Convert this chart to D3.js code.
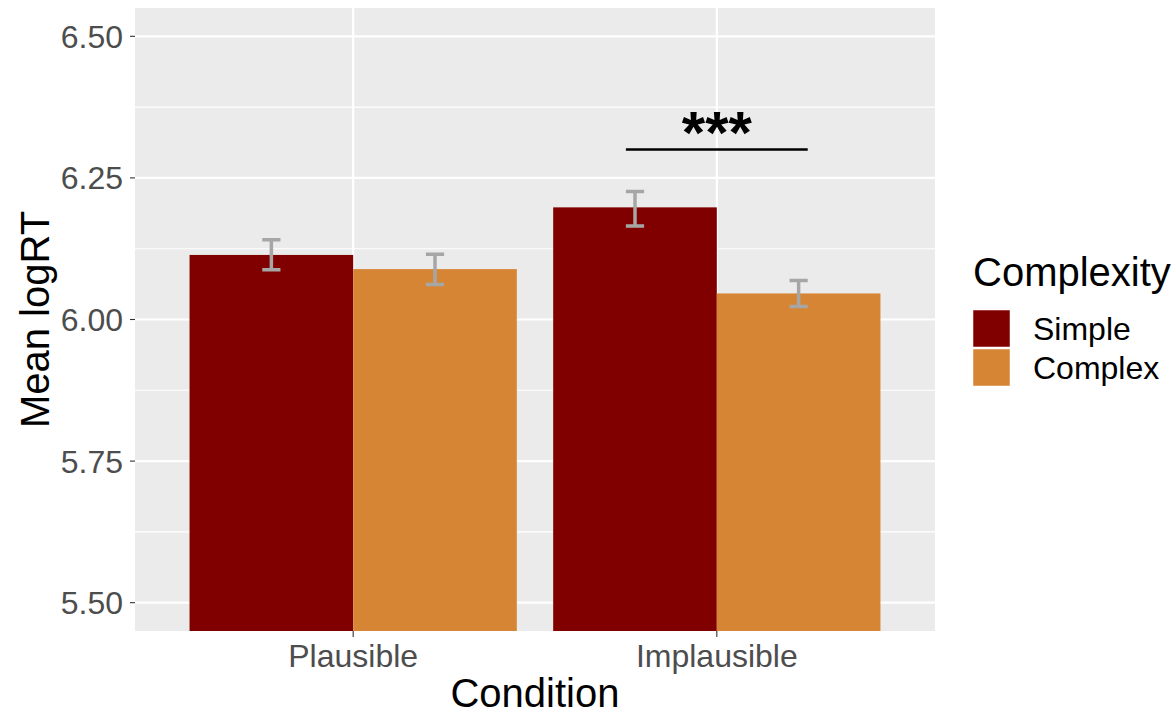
<!DOCTYPE html>
<html>
  <head>
    <meta charset="utf-8">
    <title>Mean logRT by Condition and Complexity</title>
    <style>
      body { margin: 0; background: #fff; }
      svg { font-family: "Liberation Sans", Arial, sans-serif; }
    </style>
  </head>
  <body>
    <svg width="1176" height="714"></svg>

    <script src="https://d3js.org/d3.v7.min.js"></script>
    <script>
      // Data
      const conditions = ['Plausible', 'Implausible'];
      const complexities = ['Simple', 'Complex'];
      const colors = ['#800000', '#D68534'];
      // mean, lower and upper error limits, per condition, in complexity order
      const means = [[6.114, 6.089], [6.198, 6.046]];
      const lower = [[6.088, 6.062], [6.165, 6.023]];
      const upper = [[6.141, 6.115], [6.226, 6.069]];
      const yTicks = [5.50, 5.75, 6.00, 6.25, 6.50];
      const yMinor = [5.625, 5.875, 6.125, 6.375];
      // significance bracket over Implausible
      const sigCondition = 'Implausible';
      const sigY = 6.30;
      const sigLabel = '***';

      const svg = d3.select('svg');
      const panel = { left: 135, right: 935, top: 8, bottom: 631 };

      // Discrete x like ggplot: 0.6 units of padding on each side
      const xPos = d3.scaleLinear()
        .domain([0.4, conditions.length + 0.6])
        .range([panel.left, panel.right]);
      const xCat = c => xPos(conditions.indexOf(c) + 1);

      const y = d3.scaleLinear()
        .domain([5.45, 6.55])
        .range([panel.bottom, panel.top]);

      const barWidth = 0.9;   // in category units
      const dodge = barWidth / complexities.length;
      const errWidth = 0.05;

      // Panel background and grid
      svg.append('rect')
        .attr('x', panel.left).attr('y', panel.top)
        .attr('width', panel.right - panel.left)
        .attr('height', panel.bottom - panel.top)
        .attr('fill', '#EBEBEB');

      svg.append('g').selectAll('line')
        .data(yMinor)
        .join('line')
        .attr('x1', panel.left).attr('x2', panel.right)
        .attr('y1', d => y(d)).attr('y2', d => y(d))
        .attr('stroke', '#fff').attr('stroke-width', 1.1);

      svg.append('g').selectAll('line')
        .data(yTicks)
        .join('line')
        .attr('x1', panel.left).attr('x2', panel.right)
        .attr('y1', d => y(d)).attr('y2', d => y(d))
        .attr('stroke', '#fff').attr('stroke-width', 2.2);

      svg.append('g').selectAll('line')
        .data(conditions)
        .join('line')
        .attr('x1', d => xCat(d)).attr('x2', d => xCat(d))
        .attr('y1', panel.top).attr('y2', panel.bottom)
        .attr('stroke', '#fff').attr('stroke-width', 2.2);

      // Bars and error bars
      const rows = [];
      conditions.forEach((c, i) => {
        complexities.forEach((k, j) => {
          rows.push({
            condition: c, complexity: k, color: colors[j],
            center: i + 1 - barWidth / 2 + dodge * (j + 0.5),
            mean: means[i][j], lo: lower[i][j], hi: upper[i][j]
          });
        });
      });

      svg.append('g').selectAll('rect')
        .data(rows)
        .join('rect')
        .attr('x', d => xPos(d.center - dodge / 2))
        .attr('width', d => xPos(d.center + dodge / 2) - xPos(d.center - dodge / 2))
        .attr('y', d => y(d.mean))
        .attr('height', d => y(5.45) - y(d.mean))
        .attr('fill', d => d.color);

      const err = svg.append('g')
        .attr('stroke', '#A6A6A6')
        .attr('stroke-width', 3.5)
        .attr('fill', 'none');
      err.selectAll('path')
        .data(rows)
        .join('path')
        .attr('d', d => {
          const x0 = xPos(d.center - errWidth / 2), x1 = xPos(d.center + errWidth / 2);
          const xc = xPos(d.center);
          return `M${x0},${y(d.hi)}H${x1}M${xc},${y(d.hi)}V${y(d.lo)}M${x0},${y(d.lo)}H${x1}`;
        });

      // Significance line and stars
      const sigIdx = conditions.indexOf(sigCondition) + 1;
      svg.append('line')
        .attr('x1', xPos(sigIdx - 0.25)).attr('x2', xPos(sigIdx + 0.25))
        .attr('y1', y(sigY)).attr('y2', y(sigY))
        .attr('stroke', '#000').attr('stroke-width', 2.5);
      svg.append('text')
        .attr('x', xCat(sigCondition))
        .attr('y', y(sigY) + 3)
        .attr('text-anchor', 'middle')
        .attr('font-size', 60)
        .attr('font-weight', 'bold')
        .attr('fill', '#000')
        .text(sigLabel);

      // Y axis
      const yAxis = svg.append('g');
      yAxis.selectAll('line')
        .data(yTicks)
        .join('line')
        .attr('x1', panel.left - 5).attr('x2', panel.left)
        .attr('y1', d => y(d)).attr('y2', d => y(d))
        .attr('stroke', '#333').attr('stroke-width', 1.1);
      yAxis.selectAll('text')
        .data(yTicks)
        .join('text')
        .attr('x', panel.left - 12)
        .attr('y', d => y(d))
        .attr('dy', '0.36em')
        .attr('text-anchor', 'end')
        .attr('font-size', 32)
        .attr('fill', '#4D4D4D')
        .text(d => d3.format('.2f')(d));

      // X axis
      const xAxis = svg.append('g');
      xAxis.selectAll('line')
        .data(conditions)
        .join('line')
        .attr('x1', d => xCat(d)).attr('x2', d => xCat(d))
        .attr('y1', panel.bottom).attr('y2', panel.bottom + 6)
        .attr('stroke', '#333').attr('stroke-width', 1.1);
      xAxis.selectAll('text')
        .data(conditions)
        .join('text')
        .attr('x', d => xCat(d))
        .attr('y', 667)
        .attr('text-anchor', 'middle')
        .attr('font-size', 32)
        .attr('fill', '#4D4D4D')
        .text(d => d);

      // Axis titles
      svg.append('text')
        .attr('x', (panel.left + panel.right) / 2)
        .attr('y', 707)
        .attr('text-anchor', 'middle')
        .attr('font-size', 40)
        .attr('fill', '#000')
        .text('Condition');
      svg.append('text')
        .attr('transform', `translate(49,${(panel.top + panel.bottom) / 2}) rotate(-90)`)
        .attr('text-anchor', 'middle')
        .attr('font-size', 40)
        .attr('fill', '#000')
        .text('Mean logRT');

      // Legend
      const legend = svg.append('g').attr('transform', 'translate(972,309)');
      legend.append('text')
        .attr('x', 1).attr('y', -23)
        .attr('font-size', 40)
        .attr('fill', '#000')
        .text('Complexity');
      const keySize = 39;
      const keys = legend.selectAll('g')
        .data(complexities)
        .join('g')
        .attr('transform', (d, i) => `translate(0,${i * keySize})`);
      keys.append('rect')
        .attr('x', 0.5).attr('y', 0.5)
        .attr('width', keySize - 1).attr('height', keySize - 1)
        .attr('fill', (d, i) => colors[i])
        .attr('stroke', '#fff').attr('stroke-width', 1.5);
      keys.append('text')
        .attr('x', 61).attr('y', keySize / 2)
        .attr('dy', '0.36em')
        .attr('font-size', 32)
        .attr('fill', '#000')
        .text(d => d);
    </script>
  </body>
</html>
